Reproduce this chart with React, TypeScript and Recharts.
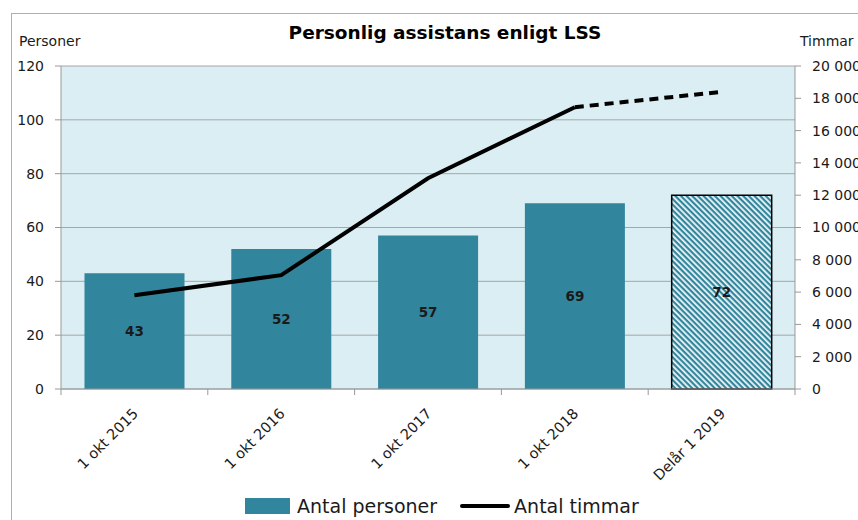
import React from 'react';
import { ComposedChart, Bar, Line, XAxis, YAxis, CartesianGrid, LabelList, Cell } from 'recharts';

const categories = ['1 okt 2015', '1 okt 2016', '1 okt 2017', '1 okt 2018', 'Delår 1 2019'];
const antalPersoner = [43, 52, 57, 69, 72];
const antalTimmar = [5800, 7050, 13050, 17450, null];
const antalTimmarPrognos = [null, null, null, 17450, 18400];
const personerTicks = [0, 20, 40, 60, 80, 100, 120];
const timmarTicks = [0, 2000, 4000, 6000, 8000, 10000, 12000, 14000, 16000, 18000, 20000];

const data = categories.map((name, i) => ({
    name,
    personer: antalPersoner[i],
    timmar: antalTimmar[i],
    prognos: antalTimmarPrognos[i],
}));

const FONT = '"DejaVu Sans", Verdana, sans-serif';
const TEAL = '#31859C';
const TEXT = '#1a1a1a';
const PLOT_LEFT = 61;
const PLOT_RIGHT = 795;
const BAND = (PLOT_RIGHT - PLOT_LEFT) / categories.length;

const fmtThousands = (v: number) => String(v).replace(/\B(?=(\d{3})+(?!\d))/g, ' ');

// Excel style: tick marks between categories, labels rotated 45 degrees
const CategoryTick = (props: any) => {
    const { x, y, payload, index } = props;
    const left = x - BAND / 2;
    const tx = x + 1;
    const ty = y + 14;
    return (
        <g>
            <line x1={left} y1={y - 8} x2={left} y2={y - 2} stroke="#999" />
            {index === categories.length - 1 && (
                <line x1={x + BAND / 2} y1={y - 8} x2={x + BAND / 2} y2={y - 2} stroke="#999" />
            )}
            <text
                x={tx}
                y={ty}
                transform={`rotate(-45, ${tx}, ${ty})`}
                textAnchor="end"
                dy="0.35em"
                fontSize={14.5}
                fill={TEXT}
                fontFamily={FONT}
            >
                {payload.value}
            </text>
        </g>
    );
};

const App: React.FC = () => {
    return (
        <div style={{ position: 'fixed', left: 0, top: 0, width: 858, height: 520, overflow: 'hidden', background: '#fff', fontFamily: FONT }}>
            <svg width={0} height={0} style={{ position: 'absolute' }}>
                <defs>
                    <pattern id="hatch" patternUnits="userSpaceOnUse" width={4} height={4} patternTransform="rotate(45)">
                        <rect width={4} height={4} fill="#EEF7FA" />
                        <rect width={4} height={2.2} fill={TEAL} />
                    </pattern>
                </defs>
            </svg>
            <div style={{ position: 'absolute', left: 11, top: 13, width: 1000, height: 600, border: '1px solid #8EB4E3' }} />
            <div style={{ position: 'absolute', left: 0, width: 890, top: 22, textAlign: 'center', fontSize: 18.5, fontWeight: 'bold', color: '#000' }}>
                Personlig assistans enligt LSS
            </div>
            <div style={{ position: 'absolute', left: 19, top: 33, fontSize: 14, color: TEXT }}>Personer</div>
            <div style={{ position: 'absolute', left: 800, top: 33, fontSize: 14, color: TEXT, whiteSpace: 'nowrap' }}>Timmar</div>
            <div style={{ position: 'absolute', left: 0, top: 0 }}>
                <ComposedChart
                    width={900}
                    height={520}
                    data={data}
                    margin={{ top: 66, right: 0, bottom: 0, left: 0 }}
                    barCategoryGap="16%"
                >
                    <CartesianGrid yAxisId="left" vertical={false} stroke="#A6A6A6" fill="#DAEEF3" />
                    <XAxis
                        dataKey="name"
                        height={131}
                        tickLine={false}
                        axisLine={{ stroke: '#999' }}
                        tick={<CategoryTick />}
                        interval={0}
                    />
                    <YAxis
                        yAxisId="left"
                        width={61}
                        domain={[0, 120]}
                        ticks={personerTicks}
                        axisLine={{ stroke: '#999' }}
                        tickLine={{ stroke: '#999' }}
                        tickSize={6}
                        tickMargin={11}
                        tick={{ fontSize: 14, fill: TEXT, fontFamily: FONT }}
                    />
                    <YAxis
                        yAxisId="right"
                        orientation="right"
                        width={105}
                        domain={[0, 20000]}
                        ticks={timmarTicks}
                        tickFormatter={fmtThousands}
                        axisLine={{ stroke: '#999' }}
                        tickLine={{ stroke: '#999' }}
                        tickSize={6}
                        tickMargin={11}
                        tick={{ fontSize: 14, fill: TEXT, fontFamily: FONT, textAnchor: 'start' }}
                    />
                    <Bar yAxisId="left" dataKey="personer" fill={TEAL} isAnimationActive={false}>
                        {data.map((d, i) => (
                            <Cell
                                key={d.name}
                                fill={i === data.length - 1 ? 'url(#hatch)' : TEAL}
                                stroke={i === data.length - 1 ? '#000' : 'none'}
                                strokeWidth={i === data.length - 1 ? 1.5 : 0}
                            />
                        ))}
                        <LabelList dataKey="personer" position="center" fill={TEXT} fontSize={13.5} fontWeight="bold" fontFamily={FONT} />
                    </Bar>
                    <Line
                        yAxisId="right"
                        dataKey="timmar"
                        stroke="#000"
                        strokeWidth={4}
                        dot={false}
                        activeDot={false}
                        connectNulls={false}
                        isAnimationActive={false}
                    />
                    <Line
                        yAxisId="right"
                        dataKey="prognos"
                        stroke="#000"
                        strokeWidth={4}
                        strokeDasharray="9 6"
                        dot={false}
                        activeDot={false}
                        isAnimationActive={false}
                    />
                </ComposedChart>
            </div>
            <div style={{ position: 'absolute', left: 245, top: 495, display: 'flex', alignItems: 'center', fontSize: 19, color: TEXT, whiteSpace: 'nowrap' }}>
                <span style={{ display: 'inline-block', width: 45, height: 16, background: TEAL, marginRight: 7 }} />
                <span>Antal personer</span>
                <span style={{ display: 'inline-block', width: 50, height: 4, background: '#000', marginLeft: 23, marginRight: 4, borderRadius: 2 }} />
                <span>Antal timmar</span>
            </div>
        </div>
    );
};

export default App;
